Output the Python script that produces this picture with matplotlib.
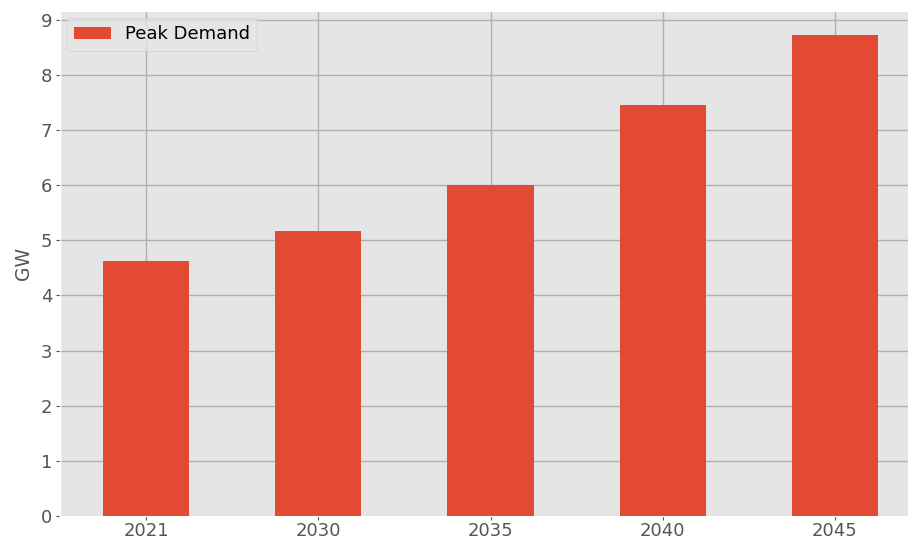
import numpy as np
import matplotlib
matplotlib.use('Agg')
import matplotlib.pyplot as plt

plt.style.use('ggplot')

years = ['2021', '2030', '2035', '2040', '2045']
peak_demand = [4.63, 5.17, 6.01, 7.46, 8.73]

fig = plt.figure(figsize=(9.08, 5.36), dpi=100)
# plot area runs past the right edge, as in the reference crop
ax = fig.add_axes([60 / 908, 20 / 536, 861 / 908, 505 / 536])

x = np.arange(len(years))
ax.bar(x, peak_demand, width=0.5, color='#E24A33', label='Peak Demand', zorder=3)
ax.set_xlim(-0.5, len(years) - 0.5)
ax.set_ylim(0, 9.16)
ax.set_xticks(x)
ax.set_xticklabels(years)
ax.set_yticks(range(0, 10))
ax.set_ylabel('GW', fontsize=13.5, color='#555555', labelpad=6)
ax.tick_params(axis='both', labelsize=13, colors='#555555', length=3, width=0.8)
ax.tick_params(axis='x', pad=1.5)
ax.tick_params(axis='y', pad=2.5)
ax.grid(True, color='#b0b0b0', linewidth=1.0, zorder=0)
ax.set_axisbelow(True)
ax.legend(loc='upper left', fontsize=13, borderaxespad=0.4)

fig.savefig('out.png', dpi=100)
